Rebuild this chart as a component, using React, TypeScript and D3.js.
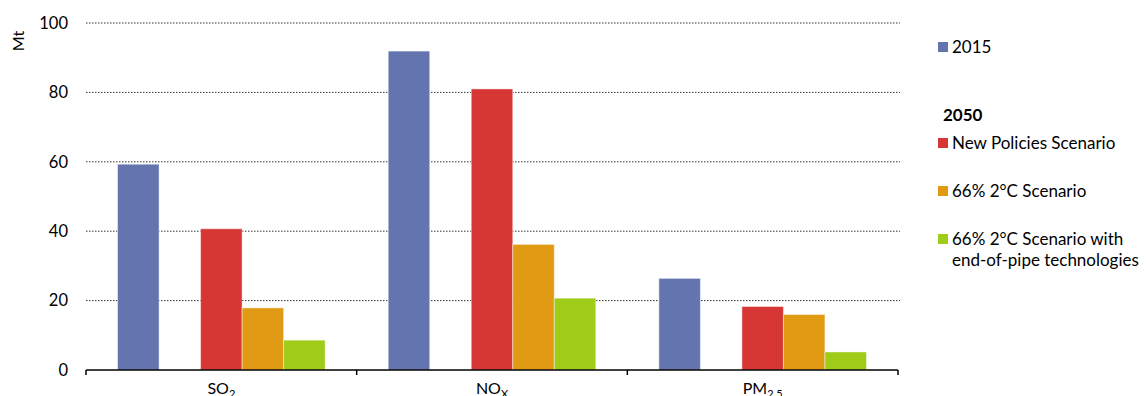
import React from "react";
import * as d3 from "d3";

const categories = ["SO2", "NOx", "PM2.5"];
const seriesNames = ["2015", "New Policies Scenario", "66% 2°C Scenario", "66% 2°C Scenario with end-of-pipe technologies"];
const v2015 = [59.3, 91.9, 26.4];
const vNPS = [40.7, 81.0, 18.3];
const v66 = [17.9, 36.2, 16.0];
const v66eop = [8.6, 20.7, 5.2];
const yTicks = [0, 20, 40, 60, 80, 100];
const colors = ["#6474AE", "#D63734", "#E09A14", "#9FCB19"];

const W = 1147, H = 396;
const left = 86, right = 898, top = 23, bottom = 370;
const FONT = "Lato, Carlito, 'Open Sans', sans-serif";

export default function App() {
  const x = d3.scaleBand<string>().domain(categories).range([left, right]).paddingInner(0).paddingOuter(0);
  // 5 slots: 2015, gap, NPS, 66, 66eop
  const slots = d3.scaleBand<number>().domain([0, 1, 2, 3, 4]).range([0, x.bandwidth()]).paddingOuter(0.76).paddingInner(0);
  const y = d3.scaleLinear().domain([0, 100]).range([bottom, top]);
  const series = [v2015, vNPS, v66, v66eop];
  const slotIdx = [0, 2, 3, 4];

  const labelParts: [string, string][] = [["SO", "2"], ["NO", "X"], ["PM", "2.5"]];

  return (
    <svg width={W} height={H} style={{ position: "absolute", left: 0, top: 0, display: "block" }} fontFamily={FONT}>
      <rect x={0} y={0} width={W} height={H} fill="#fff" />
      {yTicks.filter(t => t > 0).map(t => (
        <line key={t} x1={left} x2={right + 2} y1={y(t)} y2={y(t)} stroke="#333" strokeWidth={1} strokeDasharray="1.5,1.5" />
      ))}
      {yTicks.map(t => (
        <text key={"l" + t} x={68} y={y(t)} dy="0.35em" textAnchor="end" fontSize={16.5} fill="#000">{t}</text>
      ))}
      <text transform={`translate(24,41) rotate(-90)`} textAnchor="middle" fontSize={16} fill="#000">Mt</text>
      {categories.map((c, ci) => (
        <g key={c}>
          {series.map((s, si) => {
            const bx = (x(c) as number) + (slots(slotIdx[si]) as number);
            return (
              <rect key={si} x={bx} y={y(s[ci])} width={slots.bandwidth()} height={bottom - y(s[ci])}
                fill={colors[si]} stroke="rgba(255,255,255,0.45)" strokeWidth={1} />
            );
          })}
        </g>
      ))}
      <line x1={left} x2={right} y1={bottom} y2={bottom} stroke="#000" strokeWidth={1.5} />
      {[...categories.map(c => x(c) as number), right].map((tx, i) => (
        <line key={"t" + i} x1={tx} x2={tx} y1={bottom} y2={bottom + 5} stroke="#000" strokeWidth={1.5} />
      ))}
      {categories.map((c, ci) => (
        <text key={"x" + c} x={(x(c) as number) + x.bandwidth() / 2} y={394} textAnchor="middle" fontSize={16} fill="#000">
          {labelParts[ci][0]}
          <tspan fontSize={11} dy={4}>{labelParts[ci][1]}</tspan>
        </text>
      ))}
      {/* Legend */}
      <g fontSize={17} fill="#000">
        <rect x={938} y={42} width={10} height={10} fill={colors[0]} />
        <text x={952} y={47} dy="0.35em">{seriesNames[0]}</text>
        <text x={943} y={115} dy="0.35em" fontWeight="bold">2050</text>
        <rect x={938} y={138} width={10} height={10} fill={colors[1]} />
        <text x={952} y={143} dy="0.35em">{seriesNames[1]}</text>
        <rect x={938} y={186} width={10} height={10} fill={colors[2]} />
        <text x={952} y={191} dy="0.35em">{seriesNames[2]}</text>
        <rect x={938} y={234} width={10} height={10} fill={colors[3]} />
        <text x={952} y={239} dy="0.35em">66% 2°C Scenario with</text>
        <text x={952} y={260} dy="0.35em">end-of-pipe technologies</text>
      </g>
    </svg>
  );
}
